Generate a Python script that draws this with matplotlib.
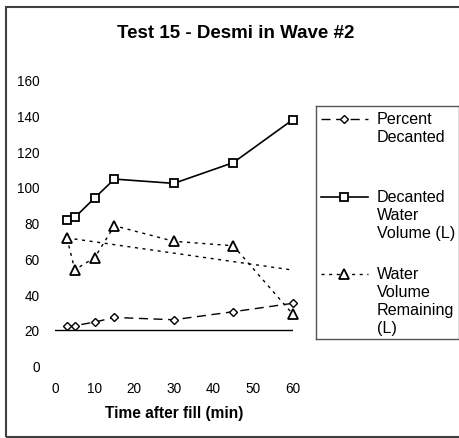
import numpy as np
import matplotlib
matplotlib.use('Agg')
import matplotlib.pyplot as plt
from matplotlib.lines import Line2D
from matplotlib.patches import Rectangle

plt.rcParams['font.family'] = ['Liberation Sans', 'DejaVu Sans']

# data
time_min = [3, 5, 10, 15, 30, 45, 60]
percent_decanted = [22.0, 22.4, 24.4, 27.0, 25.7, 30.2, 34.9]
decanted_volume = [81.7, 83.0, 93.8, 104.4, 102.0, 113.6, 137.6]
volume_remaining = [71.4, 53.7, 60.4, 78.3, 69.6, 67.1, 28.9]
trend_x = [3, 60]            # dotted trend on volume remaining
trend_y = [71.5, 53.5]
ref_x = [0, 60]              # horizontal line at 20
ref_y = [20, 20]

labels = ['Percent\nDecanted', 'Decanted\nWater\nVolume (L)', 'Water\nVolume\nRemaining\n(L)']

W, H = 460, 439
fig = plt.figure(figsize=(W / 100, H / 100), dpi=100)

# outer chart border (open on the right)
fig.patches.append(Rectangle((6 / W, 1 - 438 / H), 1.0, (438 - 8) / H,
                             transform=fig.transFigure, fill=False,
                             edgecolor='#404040', lw=1.5))

ax = fig.add_axes([55 / W, 1 - 366.7 / H, (292.7 - 55) / W, (366.7 - 80.7) / H])
for s in ax.spines.values():
    s.set_visible(False)

ax.plot(ref_x, ref_y, color='black', lw=1.0)
ax.plot(trend_x, trend_y, color='black', lw=1.0, dashes=(2.2, 3.3))

style_pd = dict(color='black', lw=1.0, dashes=(6.5, 4), marker='D', ms=4.0,
                mfc='white', mec='black', mew=1.0)
style_dv = dict(color='black', lw=1.2, marker='s', ms=6.3,
                mfc='white', mec='black', mew=1.3)
style_vr = dict(color='black', lw=1.0, dashes=(2.2, 3.3), marker='^', ms=6.8,
                mfc='white', mec='black', mew=1.3)

ax.plot(time_min, volume_remaining, clip_on=False, **style_vr)
ax.plot(time_min, decanted_volume, clip_on=False, **style_dv)
ax.plot(time_min, percent_decanted, clip_on=False, **style_pd)

ax.set_xlim(0, 60)
ax.set_ylim(0, 160)
ax.set_xticks(np.arange(0, 61, 10))
ax.set_yticks(np.arange(0, 161, 20))
ax.tick_params(length=0, labelsize=9.8)
ax.tick_params(axis='y', pad=11)
ax.tick_params(axis='x', pad=11)
ax.set_xlabel('Time after fill (min)', fontsize=11.2, fontweight='bold', labelpad=7)

fig.text(236 / W, 1 - 33 / H, 'Test 15 - Desmi in Wave #2', fontsize=13.5,
         fontweight='bold', ha='center', va='center')

# legend drawn in its own box
lax = fig.add_axes([316 / W, 1 - 340 / H, (459.3 - 316) / W, (340 - 107) / H])
lax.set_xlim(316, 459.3)
lax.set_ylim(340, 107)
lax.set_xticks([])
lax.set_yticks([])
for s in lax.spines.values():
    s.set_color('#555555')
    s.set_linewidth(1.0)

legend_y = [120, 198, 275]
for st, lab, yy in zip([style_pd, style_dv, style_vr], labels, legend_y):
    lax.add_line(Line2D([321, 344.5, 368], [yy, yy, yy], markevery=[1], **st))
    lax.text(377, yy - 8, lab, fontsize=11.6, va='top', ha='left', linespacing=1.25)

fig.savefig('out.png', dpi=100)
